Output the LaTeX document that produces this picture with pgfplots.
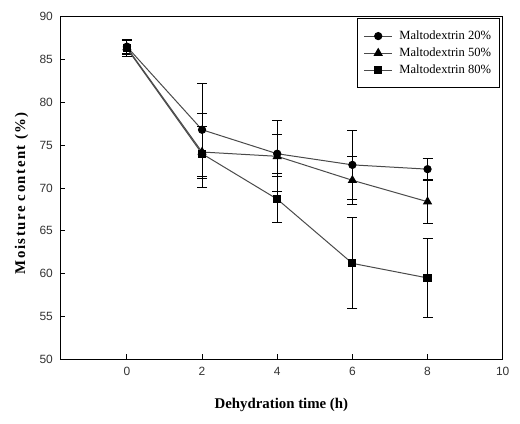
\documentclass[border=0pt]{standalone}
\usepackage{pgfplots}
\pgfplotsset{compat=1.18}
\usepackage{fontspec}
\setmainfont{Liberation Serif}
\setsansfont{Liberation Sans}
\definecolor{linegray}{HTML}{4A4A4A}
\definecolor{ticktext}{HTML}{333333}

\pgfplotstableread{
x y ep em
0 86.5 0.8 0.8
2 76.8 5.4 5.5
4 74.0 3.9 4.4
6 72.7 4.0 4.0
8 72.2 1.2 1.2
}\mdtwenty
\pgfplotstableread{
x y ep em
0 86.4 0.8 0.8
2 74.2 3.0 3.1
4 73.7 2.5 2.0
6 70.9 2.8 2.8
8 68.4 2.5 2.5
}\mdfifty
\pgfplotstableread{
x y ep em
0 86.3 0.9 0.9
2 74.0 4.7 4.0
4 68.7 2.7 2.7
6 61.2 5.4 5.3
8 59.5 4.6 4.6
}\mdeighty

\begin{document}
\begin{tikzpicture}
\begin{axis}[
  scale only axis,
  width=442.7bp, height=342.6bp,
  xmin=-1.78, xmax=10, ymin=50, ymax=90,
  xtick={0,2,4,6,8,10},
  ytick={50,55,60,65,70,75,80,85,90},
  xtick pos=bottom, ytick pos=left,
  tick align=inside,
  major tick length=5bp,
  axis line style={line width=1bp},
  every tick/.style={black, line width=0.9bp},
  /pgf/number format/assume math mode=true,
  ticklabel style={font=\sffamily\fontsize{12}{14}\selectfont, text=ticktext},
  yticklabel style={inner sep=0pt, xshift=-7bp},
  xticklabel style={inner sep=0pt, yshift=-8bp},
  xlabel={Dehydration time (h)},
  ylabel={\addfontfeatures{LetterSpace=10}Moisture content (\%)},
  xlabel style={font=\bfseries\fontsize{14.9}{17}\selectfont, at={(axis description cs:0.5,-0.1334)}, anchor=center},
  ylabel style={font=\bfseries\fontsize{14.9}{17}\selectfont, at={(axis description cs:-0.087,0.485)}, anchor=center},
  legend style={at={(axis description cs:1,1)}, xshift=-3.2bp, yshift=-1.5bp, anchor=north east,
    draw=black, line width=0.8bp, inner xsep=6bp, inner ysep=9.5bp,
    font=\fontsize{12.6}{14}\selectfont, row sep=1bp,
    nodes={inner sep=2bp, text height=9bp, text depth=3bp},
    /tikz/every odd column/.append style={column sep=4.7bp}},
  legend cell align=left,
  legend image code/.code={\draw[mark repeat=2,mark phase=2,#1] plot coordinates {(0bp,0bp) (14bp,0bp) (28bp,0bp)};},
  error bars/error bar style={black, line width=1bp},
  error bars/error mark options={rotate=90, mark size=5bp, line width=1bp, black},
]
\coordinate (ll) at (rel axis cs:0,0);
\coordinate (ur) at (rel axis cs:1,1);
\addplot[linegray, line width=1bp, mark=*, mark size=3.6bp, mark options={black, fill=black},
  error bars/.cd, y dir=both, y explicit]
  table[x=x, y=y, y error plus=ep, y error minus=em] {\mdtwenty};
\addlegendentry{Maltodextrin 20\%}
\addplot[linegray, line width=1bp, mark=triangle*, mark size=4.4bp, mark options={black, fill=black},
  error bars/.cd, y dir=both, y explicit]
  table[x=x, y=y, y error plus=ep, y error minus=em] {\mdfifty};
\addlegendentry{Maltodextrin 50\%}
\addplot[linegray, line width=1bp, mark=square*, mark size=3.6bp, mark options={black, fill=black},
  error bars/.cd, y dir=both, y explicit]
  table[x=x, y=y, y error plus=ep, y error minus=em] {\mdeighty};
\addlegendentry{Maltodextrin 80\%}
\end{axis}
\pgfresetboundingbox
\path ([shift={(-60bp,-64.7bp)}]ll) rectangle ([shift={(17.3bp,16.7bp)}]ur);
\end{tikzpicture}
\end{document}
